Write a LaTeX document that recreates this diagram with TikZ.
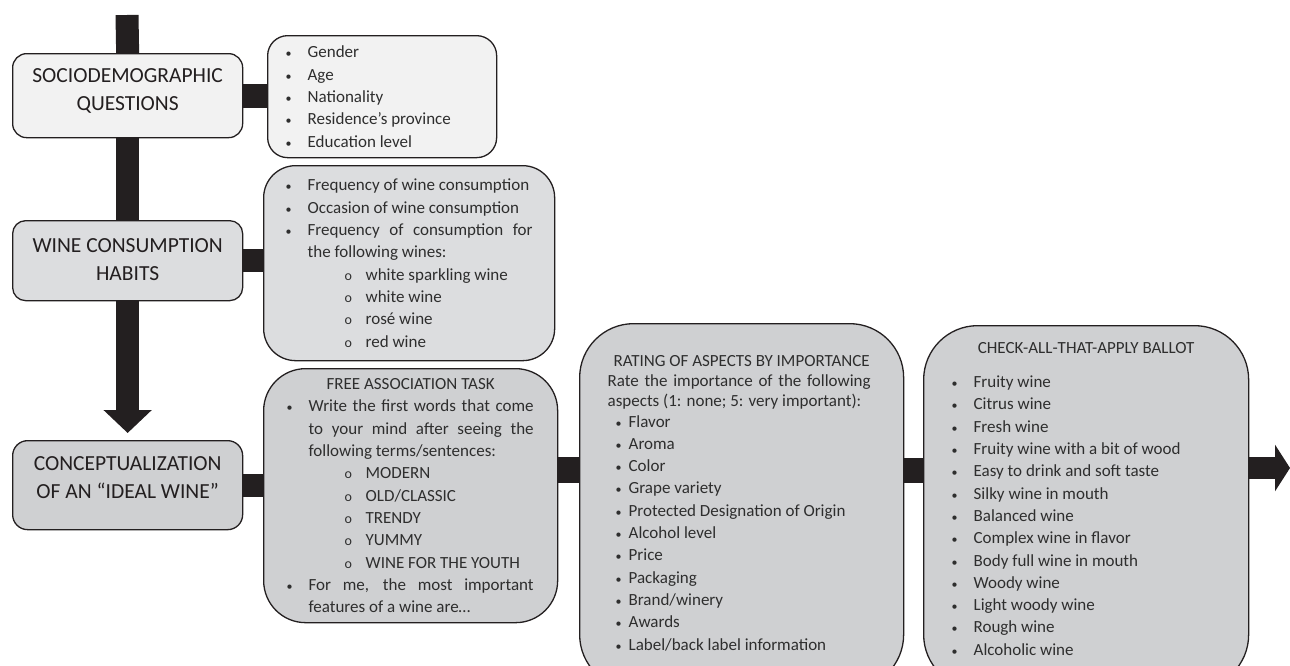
\documentclass[tikz,border=0pt]{standalone}
\usepackage{fontspec}
\setmainfont{Carlito}
\usepackage{xcolor}
\usetikzlibrary{arrows.meta, positioning}

\definecolor{ink}{HTML}{231F20}
\definecolor{textink}{HTML}{2E2E2E}
\definecolor{palegray}{HTML}{F2F2F2}
\definecolor{lightgray}{HTML}{DCDDDF}
\definecolor{midgray}{HTML}{CFD0D2}

\newlength{\bulletpos}
\newlength{\textpos}
\newlength{\subpos}\setlength{\subpos}{81pt}
\newlength{\subtextpos}\setlength{\subtextpos}{102pt}

\newcommand{\bitem}{\par\noindent\hangindent=\textpos\hangafter=1%
  \hbox to \textpos{\hspace*{\bulletpos}{\fontsize{12}{12}\selectfont\textbullet}\hfil}\ignorespaces}
\newcommand{\sitem}{\par\noindent\hangindent=\subtextpos\hangafter=1%
  \hbox to \subtextpos{\hspace*{\subpos}{\fontsize{14}{14}\selectfont o}\hfil}\ignorespaces}
\newcommand{\boxtitle}[1]{{\par\noindent\leftskip=0pt plus 1fil\rightskip=0pt plus 1fil\parfillskip=0pt #1\par}}
\newcommand{\stagetext}[3]{\parbox[c][#1][c]{230pt}{\centering\fontsize{21.5}{28}\selectfont\color{ink}#3\par\vspace{#2}}}
\newcommand{\listtext}[4]{\parbox[c][#2][#3]{#1}{\fontsize{17}{22.3}\selectfont\color{textink}%
  \tolerance=10000\hyphenpenalty=10000 #4\par}}

\tikzset{
  box/.style={draw=ink, line width=1.3pt, inner sep=0pt, anchor=north west},
  bar/.style={draw=ink, line width=#1},
  bar/.default=23pt
}

\begin{document}
\begin{tikzpicture}[x=1pt, y=-1pt]
  \useasboundingbox (0,0) rectangle (1290,665);
  \clip (0,0) rectangle (1290,665);

  % survey sections
  \node[box, fill=palegray, rounded corners=14pt] (socio) at (12,53)
    {\stagetext{84pt}{9pt}{SOCIODEMOGRAPHIC\\QUESTIONS}};
  \node[box, fill=lightgray, rounded corners=13pt] (habits) at (12,220)
    {\stagetext{80pt}{2pt}{WINE CONSUMPTION\\HABITS}};
  \node[box, fill=midgray, rounded corners=15pt] (ideal) at (12,440)
    {\stagetext{89pt}{15pt}{CONCEPTUALIZATION\\OF AN “IDEAL WINE”}};

  % questions of each section
  \node[box, fill=palegray, rounded corners=20pt] (socioList) at (267,35)
    {\listtext{229pt}{122pt}{c}{\setlength{\bulletpos}{18pt}\setlength{\textpos}{40pt}%
      \bitem Gender
      \bitem Age
      \bitem Nationality
      \bitem Residence’s province
      \bitem Education level}};
  \node[box, fill=lightgray, rounded corners=32pt] (habitsList) at (263,165)
    {\listtext{291pt}{195pt}{c}{\rightskip=22pt\setlength{\bulletpos}{22pt}\setlength{\textpos}{44pt}%
      \bitem Frequency of wine consumption
      \bitem Occasion of wine consumption
      \bitem Frequency of consumption for the following wines:
      \sitem white sparkling wine
      \sitem white wine
      \sitem rosé wine
      \sitem red wine}};
  \node[box, fill=midgray, rounded corners=42pt] (freeTask) at (263,368)
    {\listtext{294pt}{254pt}{c}{\rightskip=24pt\setlength{\bulletpos}{23pt}\setlength{\textpos}{45pt}%
      \boxtitle{FREE ASSOCIATION TASK}
      \bitem Write the first words that come to your mind after seeing the following terms/sentences:
      \sitem MODERN
      \sitem OLD/CLASSIC
      \sitem TRENDY
      \sitem YUMMY
      \sitem WINE FOR THE YOUTH
      \bitem For me, the most important features of a wine are…}};
  \node[box, fill=midgray, rounded corners=54pt] (rating) at (579,323)
    {\listtext{324pt}{365pt}{t}{\leftskip=28pt\rightskip=33pt\setlength{\bulletpos}{8pt}\setlength{\textpos}{21pt}%
      \vspace*{31.5pt}
      \boxtitle{RATING OF ASPECTS BY IMPORTANCE}
      {\baselineskip=20pt\noindent Rate the importance of the following aspects (1: none; 5: very important):\par}
      \vspace{-1.4pt}
      \bitem Flavor
      \bitem Aroma
      \bitem Color
      \bitem Grape variety
      \bitem Protected Designation of Origin
      \bitem Alcohol level
      \bitem Price
      \bitem Packaging
      \bitem Brand/winery
      \bitem Awards
      \bitem Label/back label information}};
  \node[box, fill=midgray, rounded corners=54pt] (ballot) at (923,325)
    {\listtext{325pt}{363pt}{t}{\rightskip=20pt\setlength{\bulletpos}{28pt}\setlength{\textpos}{50pt}%
      \vspace*{16.5pt}
      \boxtitle{CHECK-ALL-THAT-APPLY BALLOT}
      \vspace{12.2pt}
      \bitem Fruity wine
      \bitem Citrus wine
      \bitem Fresh wine
      \bitem Fruity wine with a bit of wood
      \bitem Easy to drink and soft taste
      \bitem Silky wine in mouth
      \bitem Balanced wine
      \bitem Complex wine in flavor
      \bitem Body full wine in mouth
      \bitem Woody wine
      \bitem Light woody wine
      \bitem Rough wine
      \bitem Alcoholic wine}};

  % connecting bars
  \coordinate (start) at (127,15);
  \coordinate (rowY) at (0,470);
  \coordinate (exit) at (1290,468);
  \draw[bar] (start) -- (socio.north);
  \draw[bar] (socio.south) -- (habits.north);
  \draw[bar, -{Triangle[length=23pt, width=47pt]}, shorten >=7pt] (habits.south) -- (ideal.north);
  \draw[bar=24pt] (socio.east) -- (socio.east -| socioList.west);
  \draw[bar] (habits.east) -- (habits.east -| habitsList.west);
  \draw[bar] (ideal.east) -- (ideal.east -| freeTask.west);
  \draw[bar=26pt] (freeTask.east |- rowY) -- (rating.west |- rowY);
  \draw[bar=25pt] (rating.east |- rowY) -- (ballot.west |- rowY);
  \draw[bar=22pt, -{Triangle[length=15pt, width=46pt]}] (ballot.east |- exit) -- (exit);
\end{tikzpicture}
\end{document}
